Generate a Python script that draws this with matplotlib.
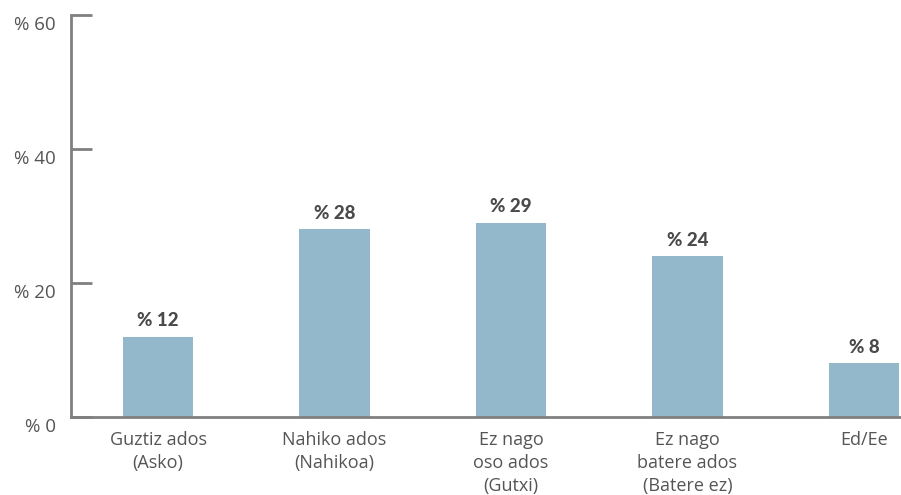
import matplotlib
matplotlib.use("Agg")
import matplotlib.pyplot as plt
import matplotlib.transforms as mtransforms

categories = ["Guztiz ados\n(Asko)", "Nahiko ados\n(Nahikoa)", "Ez nago\noso ados\n(Gutxi)",
              "Ez nago\nbatere ados\n(Batere ez)", "Ed/Ee"]
values = [12, 28, 29, 24, 8]
yticks = [0, 20, 40, 60]
ytick_labels = ["% 0", "% 20", "% 40", "% 60"]

bar_color = "#93b8cc"
axis_color = "#808080"
text_color = "#555555"

fig = plt.figure(figsize=(9.01, 4.95), dpi=100)
ax = fig.add_axes([71/901, 78/495, 1 - 71/901, (417-15)/495])

x = list(range(len(categories)))
ax.bar(x, values, width=0.40, color=bar_color, zorder=2)

for xi, v in zip(x, values):
    ax.text(xi, v + 1.1, f"% {v}", ha="center", va="bottom", fontsize=13.5,
            fontweight="black", family="Lato", color="#4a4a4a")

ax.set_xlim(-0.493, 4.21)
ax.set_ylim(0, 60)
ax.set_yticks(yticks)
ax.set_yticklabels(ytick_labels, family="Open Sans", fontsize=13.5, color=text_color)
ax.set_xticks(x)
ax.set_xticklabels(categories, family="Open Sans", fontsize=13, color=text_color,
                   linespacing=1.36)

ax.tick_params(axis="y", direction="in", length=15, width=2, color=axis_color, pad=11)
ax.tick_params(axis="x", length=0, pad=10)

offset = mtransforms.ScaledTranslation(0, -6/72, fig.dpi_scale_trans)
for lab in ax.get_yticklabels():
    lab.set_transform(lab.get_transform() + offset)

for side in ["top", "right"]:
    ax.spines[side].set_visible(False)
for side in ["left", "bottom"]:
    ax.spines[side].set_color(axis_color)
    ax.spines[side].set_linewidth(2)

fig.savefig("out.png", dpi=100)
